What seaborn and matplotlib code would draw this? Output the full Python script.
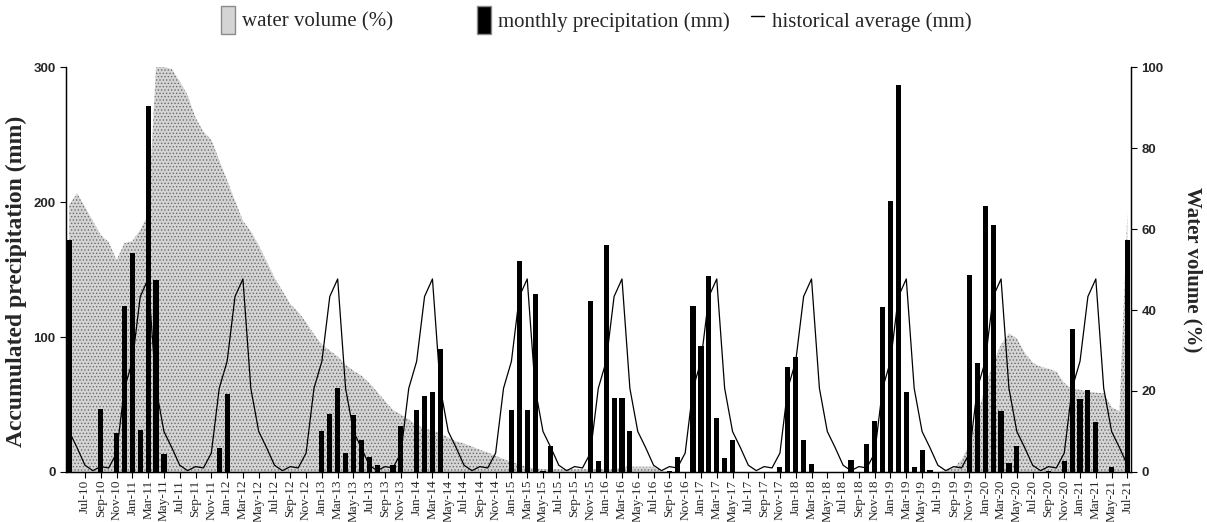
import numpy as np
import pandas as pd
import seaborn as sns
import matplotlib.pyplot as plt
from matplotlib.patches import Patch
from matplotlib.lines import Line2D

# monthly series, May-10 .. Jul-21
months = pd.date_range('2010-05-01', '2021-07-01', freq='MS').strftime('%b-%y')

precip = [
    172, 0, 0, 0, 47, 0, 29, 123, 162, 31, 271, 142,          # May-10 .. Apr-11
    13, 0, 0, 0, 0, 0, 0, 18, 58, 0, 0, 0,                     # May-11 .. Apr-12
    0, 0, 0, 0, 0, 0, 0, 0, 30, 43, 62, 14,                    # May-12 .. Apr-13
    42, 24, 11, 5, 0, 5, 34, 0, 46, 56, 59, 91,                # May-13 .. Apr-14
    0, 0, 0, 0, 0, 0, 0, 0, 46, 156, 46, 132,                  # May-14 .. Apr-15
    1, 19, 0, 0, 0, 0, 127, 8, 168, 55, 55, 30,                # May-15 .. Apr-16
    0, 0, 0, 0, 0.5, 11, 0, 123, 93, 145, 40, 10,              # May-16 .. Apr-17
    24, 0, 0, 0, 0, 0, 4, 78, 85, 24, 6, 0,                    # May-17 .. Apr-18
    0, 0, 0, 9, 0, 21, 38, 122, 201, 287, 59, 3.5,             # May-18 .. Apr-19
    16, 1.5, 0, 0, 0, 0, 146, 81, 197, 183, 45, 7,             # May-19 .. Apr-20
    19, 0, 0, 0, 0.5, 0, 8, 106, 54, 61, 37, 0,                # May-20 .. Apr-21
    3.5, 0, 172,                                               # May-21 .. Jul-21
]

water_volume = [
    66, 68.8, 65.5, 62, 58.5, 56.8, 52.3, 56.5, 57, 59.8, 63.5, 100,
    100, 99.5, 96.5, 93, 87.5, 84, 82, 77, 72, 67, 62, 59.5,
    56, 52, 48, 44.7, 41.5, 39.5, 37, 34, 31.5, 30, 28.5, 26.5,
    25, 23.8, 22, 19.8, 17.5, 15.3, 14.2, 13, 11.5, 10.8, 10.2, 9.6,
    8.5, 7.6, 7, 6.3, 5.5, 4.8, 4, 3.2, 2.5, 1.8, 1.2, 0.9,
    0.7, 0.7, 0.7, 0.7, 0.7, 0.7, 0.7, 0.7, 0.7, 0.7, 1.3, 1.3,
    1.3, 1.3, 1.3, 0.3, 0, 0, 0, 0, 0, 0, 0, 0,
    0, 0, 0, 0, 0, 0, 0, 0, 0, 0, 0, 0,
    0, 0, 0, 0, 0, 0, 0, 0, 0, 0, 0, 0,
    0, 0, 0, 0.5, 1, 3, 7, 14, 21, 27, 31.5, 34.2,
    33, 29.5, 27, 26, 25.5, 24.8, 22, 20.5, 20.3, 19.8, 19.6, 19.4,
    16, 15, 64,
]

# historical monthly average, May .. Apr
hist_monthly = [30, 18, 5, 1, 4, 3, 14, 62, 82, 130, 143, 62]

df = pd.DataFrame({
    'idx': np.arange(len(months)),
    'month': months,
    'precip': precip,
    'volume': water_volume,
    'hist': np.resize(hist_monthly, len(months)),
})

sns.set_theme(style='ticks')
plt.rcParams['font.family'] = ['Liberation Serif', 'DejaVu Serif']
plt.rcParams['hatch.linewidth'] = 0.6

fig = plt.figure(figsize=(12.07, 5.22), dpi=100)
ax = fig.add_axes([0.0547, 0.0958, 0.8823, 0.7758])
ax2 = ax.twinx()
ax.set_zorder(ax2.get_zorder() + 1)
ax.patch.set_visible(False)

# water volume area (right axis)
ax2.fill_between(df['idx'], df['volume'], color='#d4d4d4', hatch='.....',
                 edgecolor='#6a6a6a', linewidth=0)

# precipitation bars + historical average (left axis)
sns.barplot(data=df, x='idx', y='precip', native_scale=True, color='black',
            saturation=1, width=0.65, errorbar=None, linewidth=0, ax=ax)
sns.lineplot(data=df, x='idx', y='hist', color='black', lw=0.9, ax=ax)

ax.set_xlim(-0.4, 134.45)
ax.set_ylim(0, 300)
ax2.set_ylim(0, 100)
ax.set_yticks([0, 100, 200, 300])
ax2.set_yticks([0, 20, 40, 60, 80, 100])

tick_idx = df['idx'][2::2]
ax.set_xticks(tick_idx)
ax.set_xticklabels(df['month'][2::2], rotation=90, fontsize=9.5)
ax.set_xlabel('')

for a in (ax, ax2):
    a.spines['top'].set_visible(False)
    a.tick_params(direction='out', length=4, width=0.8, color='black')
    for s in a.spines.values():
        s.set_linewidth(0.9)
        s.set_color('black')
ax.tick_params(axis='x', pad=1.5)

for lab in ax.get_yticklabels() + ax2.get_yticklabels():
    lab.set_fontfamily('Liberation Sans')
    lab.set_fontweight('bold')
    lab.set_fontsize(9.5)

ax.set_ylabel('Accumulated precipitation (mm)', fontsize=17, fontweight='bold')
ax.yaxis.set_label_coords(-0.037, 0.47)
ax2.set_ylabel('Water volume (%)', fontsize=15, fontweight='bold',
               rotation=270, labelpad=28)

h1 = Patch(facecolor='#d4d4d4', edgecolor='#8a8a8a')
h2 = Patch(facecolor='black', edgecolor='#8a8a8a')
h3 = Line2D([], [], color='black', lw=1)
fig.legend([h1], ['water volume (%)'], loc='center',
           bbox_to_anchor=(0.2545, 0.962), frameon=False, fontsize=15,
           handlelength=0.65, handleheight=1.7, handletextpad=0.35)
fig.legend([h2, h3], ['monthly precipitation (mm)', 'historical average (mm)'],
           loc='center', bbox_to_anchor=(0.600, 0.962), ncol=2, frameon=False,
           fontsize=15, handlelength=0.65, handleheight=1.7, handletextpad=0.35,
           columnspacing=1.0)

fig.savefig('out.png', dpi=100)
